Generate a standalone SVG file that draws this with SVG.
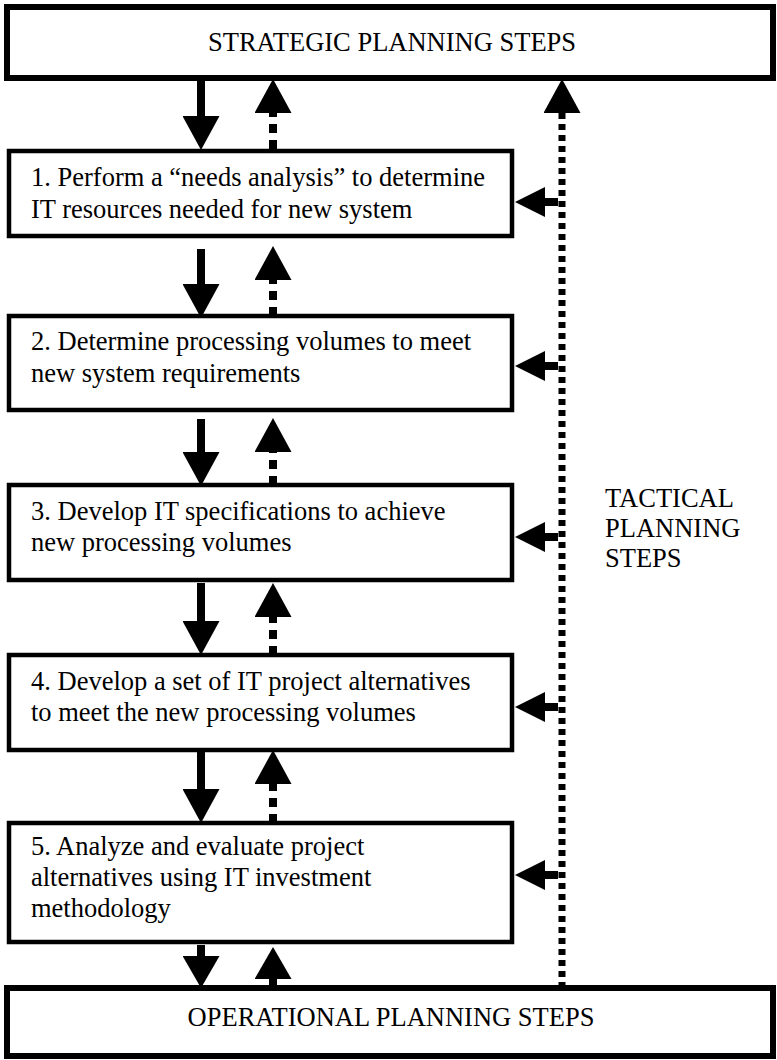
<svg xmlns="http://www.w3.org/2000/svg" width="777" height="1060" viewBox="0 0 777 1060">
  <style>
    .frame { fill: #ffffff; stroke: #000000; }
    .big { stroke-width: 6; }
    .step { stroke-width: 4.5; }
    .label { font-family: "Liberation Serif", "Times New Roman", serif; font-size: 26.5px; fill: #000000; }
    .mid { text-anchor: middle; }
    .solid { stroke: #000000; stroke-width: 8; fill: none; }
    .dashed { stroke: #000000; stroke-width: 8; fill: none; stroke-dasharray: 9 7; }
    .tactical { stroke: #000000; stroke-width: 7; fill: none; stroke-dasharray: 6 5; }
  </style>
  <defs>
    <!-- vertical arrowhead: base at the line end, 37 wide, 34 long -->
    <marker id="headV" markerUnits="userSpaceOnUse" viewBox="0 0 34 37" markerWidth="34" markerHeight="37" refX="0" refY="18.5" orient="auto">
      <path d="M0,0 L34,18.5 L0,37 Z" fill="#000000"/>
    </marker>
    <!-- sideways arrowhead pointing into each step box -->
    <marker id="headH" markerUnits="userSpaceOnUse" viewBox="0 0 30 30" markerWidth="30" markerHeight="30" refX="0" refY="15" orient="auto">
      <path d="M0,0 L30,15 L0,30 Z" fill="#000000"/>
    </marker>
    <marker id="headShort" markerUnits="userSpaceOnUse" viewBox="0 0 32 37" markerWidth="32" markerHeight="37" refX="0" refY="18.5" orient="auto">
      <path d="M0,0 L32,18.5 L0,37 Z" fill="#000000"/>
    </marker>
  </defs>

  <g id="connectors">
    <!-- strategic <-> step 1 -->
    <line class="solid" x1="201" y1="81" x2="201" y2="116" marker-end="url(#headV)"/>
    <line class="dashed" x1="273" y1="149" x2="273" y2="113" marker-end="url(#headV)"/>
    <!-- step 1 <-> step 2 -->
    <line class="solid" x1="201" y1="249" x2="201" y2="284" marker-end="url(#headV)"/>
    <line class="dashed" x1="273" y1="316" x2="273" y2="280" marker-end="url(#headV)"/>
    <!-- step 2 <-> step 3 -->
    <line class="solid" x1="201" y1="419" x2="201" y2="452" marker-end="url(#headV)"/>
    <line class="dashed" x1="273" y1="485" x2="273" y2="452" marker-end="url(#headV)"/>
    <!-- step 3 <-> step 4 -->
    <line class="solid" x1="201" y1="583" x2="201" y2="621" marker-end="url(#headV)"/>
    <line class="dashed" x1="273" y1="655" x2="273" y2="617" marker-end="url(#headV)"/>
    <!-- step 4 <-> step 5 -->
    <line class="solid" x1="201" y1="752" x2="201" y2="789" marker-end="url(#headV)"/>
    <line class="dashed" x1="273" y1="823" x2="273" y2="784" marker-end="url(#headV)"/>
    <!-- step 5 <-> operational -->
    <line class="solid" x1="201" y1="945" x2="201" y2="956" marker-end="url(#headShort)"/>
    <line class="solid" x1="273" y1="988" x2="273" y2="979" marker-end="url(#headShort)"/>

    <!-- tactical feedback line up to the strategic level -->
    <line class="tactical" x1="562" y1="988" x2="562" y2="113" marker-end="url(#headV)"/>
    <!-- tactical line feeding each step -->
    <line class="solid" x1="558" y1="202" x2="545" y2="202" marker-end="url(#headH)"/>
    <line class="solid" x1="558" y1="366" x2="545" y2="366" marker-end="url(#headH)"/>
    <line class="solid" x1="558" y1="537" x2="545" y2="537" marker-end="url(#headH)"/>
    <line class="solid" x1="558" y1="707" x2="545" y2="707" marker-end="url(#headH)"/>
    <line class="solid" x1="558" y1="875" x2="545" y2="875" marker-end="url(#headH)"/>
  </g>

  <g id="strategic">
    <rect class="frame big" x="7" y="7" width="766" height="71"/>
    <text class="label mid" x="392" y="51">STRATEGIC PLANNING STEPS</text>
  </g>

  <g id="step1">
    <rect class="frame step" x="9" y="151" width="503" height="85"/>
    <text class="label" x="31" y="186">1. Perform a “needs analysis” to determine</text>
    <text class="label" x="31" y="218">IT resources needed for new system</text>
  </g>

  <g id="step2">
    <rect class="frame step" x="9" y="316" width="503" height="94"/>
    <text class="label" x="31" y="350">2. Determine processing volumes to meet</text>
    <text class="label" x="31" y="382">new system requirements</text>
  </g>

  <g id="step3">
    <rect class="frame step" x="9" y="485" width="503" height="95"/>
    <text class="label" x="31" y="520">3. Develop IT specifications to achieve</text>
    <text class="label" x="31" y="551">new processing volumes</text>
  </g>

  <g id="step4">
    <rect class="frame step" x="9" y="655" width="503" height="95"/>
    <text class="label" x="31" y="690">4. Develop a set of IT project alternatives</text>
    <text class="label" x="31" y="721">to meet the new processing volumes</text>
  </g>

  <g id="step5">
    <rect class="frame step" x="9" y="823" width="503" height="119"/>
    <text class="label" x="31" y="855">5. Analyze and evaluate project</text>
    <text class="label" x="31" y="886">alternatives using IT investment</text>
    <text class="label" x="31" y="917">methodology</text>
  </g>

  <g id="tactical-label">
    <text class="label" x="605" y="507">TACTICAL</text>
    <text class="label" x="605" y="537">PLANNING</text>
    <text class="label" x="605" y="567">STEPS</text>
  </g>

  <g id="operational">
    <rect class="frame big" x="7" y="988" width="766" height="68"/>
    <text class="label mid" x="391" y="1026">OPERATIONAL PLANNING STEPS</text>
  </g>
</svg>
